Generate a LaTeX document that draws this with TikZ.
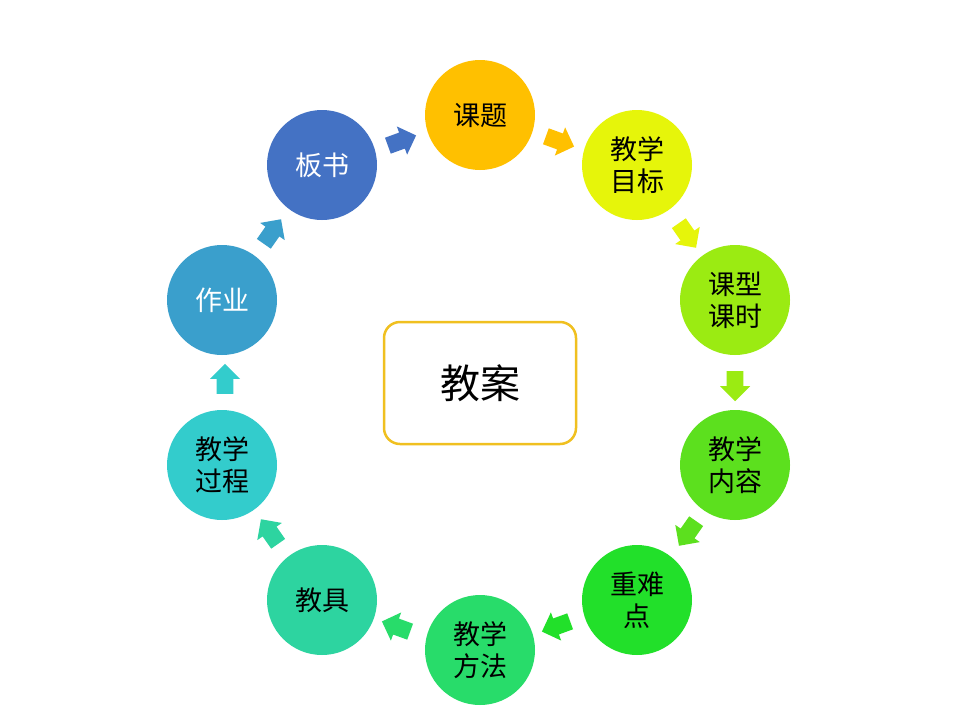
\documentclass[tikz,border=0pt]{standalone}
\usepackage{fontspec}
\setmainfont{Noto Sans CJK SC}
\usetikzlibrary{shapes.arrows}
\definecolor{c1}{HTML}{FFC000}
\definecolor{c2}{HTML}{E6F50A}
\definecolor{c3}{HTML}{9BEB12}
\definecolor{c4}{HTML}{5CE01E}
\definecolor{c5}{HTML}{22E02A}
\definecolor{c6}{HTML}{28DC6A}
\definecolor{c7}{HTML}{2DD4A0}
\definecolor{c8}{HTML}{33CCCC}
\definecolor{c9}{HTML}{3A9FCC}
\definecolor{c10}{HTML}{4472C4}
\definecolor{boxc}{HTML}{F0C020}
\tikzset{
  bub/.style={circle,minimum size=110pt,inner sep=0pt,align=center,font=\fontsize{27}{32}\selectfont},
  blk/.style={single arrow,draw=none,minimum height=30pt,minimum width=30pt,single arrow head extend=4pt,inner sep=5pt}
}
\begin{document}
\begin{tikzpicture}[x=1pt,y=-1pt]
\useasboundingbox (0,0) rectangle (960,720);
\fill[white] (0,0) rectangle (960,720);
\node[bub,fill=c1] (a1) at (480,115) {课题};
\node[bub,fill=c2] (a2) at (637,165) {教学\\目标};
\node[bub,fill=c3] (a3) at (735,300) {课型\\课时};
\node[bub,fill=c4] (a4) at (735,465) {教学\\内容};
\node[bub,fill=c5] (a5) at (637,600) {重难\\点};
\node[bub,fill=c6] (a6) at (480,650) {教学\\方法};
\node[bub,fill=c7] (a7) at (322,600) {教具};
\node[bub,fill=c8] (a8) at (222,465) {教学\\过程};
\node[bub,fill=c9,text=white] (a9) at (222,300) {作业};
\node[bub,fill=c10,text=white] (a10) at (322,165) {板书};
\node[draw=boxc,line width=2.5pt,rounded corners=16pt,minimum width=192pt,minimum height=122pt,font=\fontsize{40}{46}\selectfont] (c) at (480,383) {教案};
\node[blk,fill=c10,rotate=20] (r1) at (398,142) {};
\node[blk,fill=c1,rotate=-20] (r2) at (556,140) {};
\node[blk,fill=c2,rotate=-55] (r3) at (685,232) {};
\node[blk,fill=c3,rotate=-90] (r4) at (735,382) {};
\node[blk,fill=c4,rotate=-125] (r5) at (690,530) {};
\node[blk,fill=c5,rotate=-160] (r6) at (560,625) {};
\node[blk,fill=c6,rotate=160] (r7) at (400,628) {};
\node[blk,fill=c7,rotate=125] (r8) at (272,535) {};
\node[blk,fill=c8,rotate=90] (r9) at (225,383) {};
\node[blk,fill=c9,rotate=55] (r10) at (270,235) {};
\end{tikzpicture}
\end{document}
